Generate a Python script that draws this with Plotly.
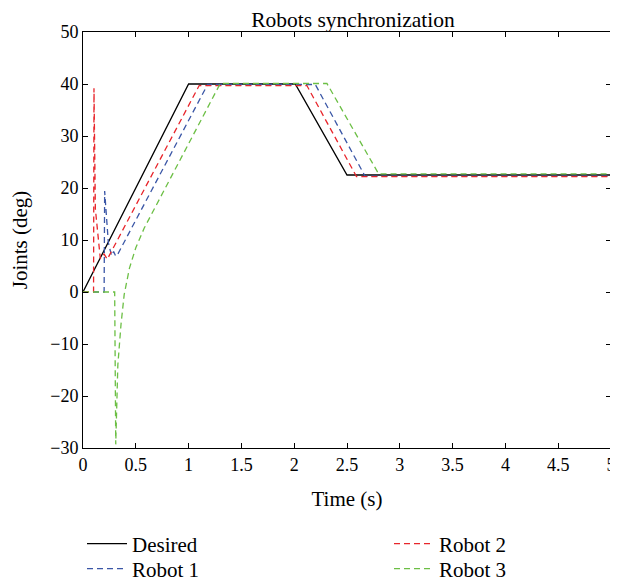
import plotly.graph_objects as go

title = "Robots synchronization"
x_label = "Time (s)"
y_label = "Joints (deg)"

desired_t = [0, 1.0, 2.01, 2.50, 5]
desired_v = [0, 40, 40, 22.5, 22.5]

robot1_t = [0, 0.20, 0.205, 0.24, 0.27, 0.29, 0.31, 0.33, 1.18, 2.20, 2.67, 5]
robot1_v = [0, 0, 19.4, 9.5, 7.0, 7.8, 6.9, 7.3, 39.9, 39.9, 22.3, 22.3]

robot2_t = [0, 0.10, 0.104, 0.117, 0.164, 0.20, 0.23, 1.10, 2.12, 2.59, 5]
robot2_v = [0, 0, 39.2, 16.0, 6.4, 7.3, 6.3, 39.7, 39.7, 22.2, 22.2]

robot3_t = [0, 0.30, 0.31, 0.33, 0.36, 0.39, 0.44, 0.50, 0.58, 0.68, 1.30, 2.31, 2.80, 5]
robot3_v = [0, 0, -29.3, -14.0, -6.2, -0.5, 4.6, 8.5, 12.3, 16.2, 40.1, 40.1, 22.7, 22.7]

x_ticks = [0, 0.5, 1, 1.5, 2, 2.5, 3, 3.5, 4, 4.5, 5]
y_ticks = [-30, -20, -10, 0, 10, 20, 30, 40, 50]

FONT = "Liberation Serif"
FS = 18
FS_TITLE = 21.5
FS_AX = 21
FS_LEG = 21
# the page body has an 8px margin; figure is taller than the view so legends push no margins
W, H = 610, 590
ML, MR, MT, MB = 75, 7, 24, 150
PW, PH = W - ML - MR, H - MT - MB

fig = go.Figure()
fig.add_trace(go.Scatter(x=desired_t, y=desired_v, mode="lines", name="Desired",
                         line=dict(color="black", width=1.3), legend="legend"))
fig.add_trace(go.Scatter(x=robot1_t, y=robot1_v, mode="lines", name="Robot 1",
                         line=dict(color="#3a56a6", width=1.3, dash="6px,4px"), legend="legend2"))
fig.add_trace(go.Scatter(x=robot2_t, y=robot2_v, mode="lines", name="Robot 2",
                         line=dict(color="#e8252b", width=1.3, dash="6px,4px"), legend="legend3"))
fig.add_trace(go.Scatter(x=robot3_t, y=robot3_v, mode="lines", name="Robot 3",
                         line=dict(color="#6cbf45", width=1.3, dash="6px,4px"), legend="legend4"))
for tr in fig.data:
    tr.showlegend = True

axis_common = dict(showgrid=False, zeroline=False, showline=True, mirror="ticks",
                   linecolor="black", linewidth=1, ticks="inside", ticklen=5,
                   tickcolor="black", automargin=False, ticklabeloverflow="allow",
                   tickfont=dict(family=FONT, size=FS, color="black"))


def px_x(fx):
    return (fx - ML) / PW


def px_y(fy):
    return 1 - (fy - MT) / PH


def leg(xp, yc):
    return dict(x=xp, y=yc, xanchor="left", yanchor="middle", orientation="v",
                font=dict(family=FONT, size=FS_LEG, color="black"),
                itemwidth=40, bgcolor="rgba(0,0,0,0)")


row1, row2 = px_y(536), px_y(561)
col1, col2 = px_x(74), px_x(381)

fig.update_layout(
    width=W, height=H,
    showlegend=True,
    margin=dict(l=ML, r=MR, t=MT, b=MB),
    plot_bgcolor="white", paper_bgcolor="white",
    font=dict(family=FONT, size=FS, color="black"),
    title=dict(text=title, x=345 / W, xanchor="center", y=1 - 11 / H, yanchor="middle",
               font=dict(family=FONT, size=FS_TITLE, color="black"), automargin=False),
    xaxis=dict(range=[0, 5], tickmode="array", tickvals=x_ticks,
               ticktext=[f"{v:g}" for v in x_ticks],
               title=dict(text=x_label, font=dict(family=FONT, size=FS_AX), standoff=17),
               **axis_common),
    yaxis=dict(range=[-30, 50], tickmode="array", tickvals=y_ticks,
               title=dict(text=y_label, font=dict(family=FONT, size=FS_AX), standoff=18),
               **axis_common),
    legend=leg(col1, row1),
    legend2=leg(col1, row2),
    legend3=leg(col2, row1),
    legend4=leg(col2, row2),
)
fig.write_html("out.html")
